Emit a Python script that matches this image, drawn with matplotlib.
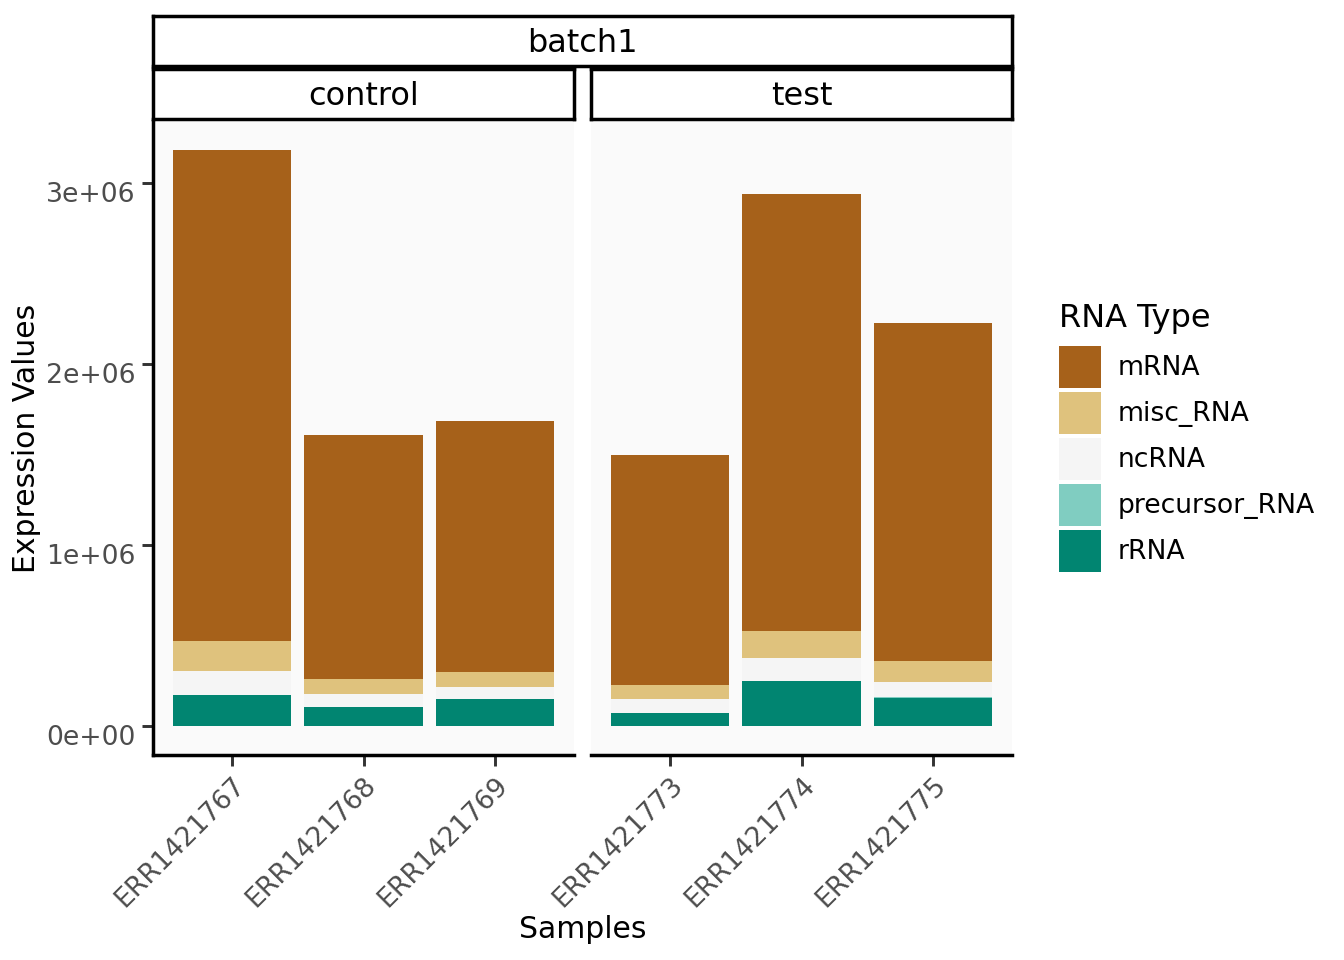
import numpy as np
import matplotlib.pyplot as plt
import matplotlib.transforms as mtransforms
from matplotlib.patches import Patch

# data
samples = ['ERR1421767', 'ERR1421768', 'ERR1421769', 'ERR1421773', 'ERR1421774', 'ERR1421775']
groups = ['control', 'control', 'control', 'test', 'test', 'test']
rna_types = ['rRNA', 'precursor_RNA', 'ncRNA', 'misc_RNA', 'mRNA']
rRNA = [171000, 105000, 149000, 72000, 248000, 154000]
precursor_RNA = [1000, 500, 800, 500, 1500, 6000]
ncRNA = [131000, 72000, 66000, 77000, 126000, 83000]
misc_RNA = [166000, 82000, 83000, 77000, 149000, 116000]
mRNA = [2714000, 1346000, 1384000, 1269000, 2416000, 1869000]
colors = {'mRNA': '#A6611A', 'misc_RNA': '#DFC27D', 'ncRNA': '#F5F5F5',
          'precursor_RNA': '#80CDC1', 'rRNA': '#018571'}
values = {'rRNA': rRNA, 'precursor_RNA': precursor_RNA, 'ncRNA': ncRNA,
          'misc_RNA': misc_RNA, 'mRNA': mRNA}

fig = plt.figure(figsize=(7, 5), dpi=192)
W, H = 1344, 960

def fx(px):
    return px / W

def fy(px):
    return 1 - px / H

totals = np.sum([values[k] for k in rna_types], axis=0)
ymax = totals.max()
ylim = (-0.05 * ymax, 1.05 * ymax)

panels = [('control', 153), ('test', 591)]
pw = 421
tick_col = '#4D4D4D'
tick_fs = 10.0
shift = mtransforms.ScaledTranslation(0, -9 / 192, fig.dpi_scale_trans)
for j, (g, x0) in enumerate(panels):
    ax = fig.add_axes([fx(x0), fy(755), fx(pw), fy(121) - fy(755)])
    ax.set_facecolor('#FAFAFA')
    idx = [i for i, gg in enumerate(groups) if gg == g]
    xs = np.arange(1, len(idx) + 1)
    bottom = np.zeros(len(idx))
    for k in rna_types:
        v = np.array([values[k][i] for i in idx])
        ax.bar(xs, v, 0.9, bottom=bottom, color=colors[k], linewidth=0)
        bottom += v
    ax.set_xlim(0.4, 3.6)
    ax.set_ylim(*ylim)
    ax.set_xticks(xs)
    ax.set_xticklabels([samples[i] for i in idx], rotation=45, ha='right',
                       rotation_mode='anchor', fontsize=tick_fs, color=tick_col)
    for s in ['top', 'right']:
        ax.spines[s].set_visible(False)
    ax.spines['bottom'].set_linewidth(1.3)
    ax.spines['left'].set_linewidth(1.3)
    ax.tick_params(axis='both', length=4, width=1.1, color='#333333', pad=2.5)
    if j == 0:
        ax.set_yticks([0, 1e6, 2e6, 3e6])
        ax.set_yticklabels(['0e+00', '1e+06', '2e+06', '3e+06'], fontsize=tick_fs, color=tick_col)
        for lab in ax.get_yticklabels():
            lab.set_transform(lab.get_transform() + shift)
    else:
        ax.spines['left'].set_visible(False)
        ax.set_yticks([])

    # facet strip
    sax = fig.add_axes([fx(x0), fy(119), fx(pw), fy(69) - fy(119)])
    sax.set_xticks([]); sax.set_yticks([])
    for s in sax.spines.values():
        s.set_linewidth(1.3)
    sax.text(0.5, 0.45, g, ha='center', va='center', fontsize=12, transform=sax.transAxes)

bax = fig.add_axes([fx(153), fy(66), fx(1012 - 153), fy(16) - fy(66)])
bax.set_xticks([]); bax.set_yticks([])
for s in bax.spines.values():
    s.set_linewidth(1.3)
bax.text(0.5, 0.45, 'batch1', ha='center', va='center', fontsize=12, transform=bax.transAxes)

fig.text(fx(583), fy(930), 'Samples', ha='center', va='center', fontsize=11.2)
fig.text(fx(27), fy(438), 'Expression Values', ha='center', va='center', rotation=90, fontsize=11.2)

handles = [Patch(facecolor=colors[k], edgecolor='none', label=k)
           for k in ['mRNA', 'misc_RNA', 'ncRNA', 'precursor_RNA', 'rRNA']]
leg = fig.legend(handles=handles, title='RNA Type', loc='upper left',
                 bbox_to_anchor=(fx(1048), fy(292)), frameon=False, fontsize=10.0,
                 title_fontsize=12, handlelength=1.575, handleheight=2.05,
                 labelspacing=0.15, handletextpad=0.64, borderaxespad=0)
leg._legend_box.align = 'left'
leg._legend_box.sep = 4.5

fig.savefig('out.png', dpi=192)
